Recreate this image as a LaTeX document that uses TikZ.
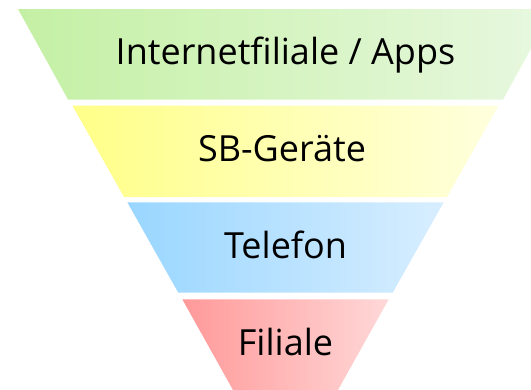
\documentclass[tikz,border=0pt]{standalone}
\usepackage{fontspec}
\setmainfont{Open Sans}
\usepackage{tikz}

\definecolor{webL}{RGB}{196,240,164}
\definecolor{webR}{RGB}{232,248,224}
\definecolor{sbL}{RGB}{255,255,136}
\definecolor{sbR}{RGB}{255,255,222}
\definecolor{telL}{RGB}{153,214,255}
\definecolor{telR}{RGB}{216,238,255}
\definecolor{filL}{RGB}{255,153,153}
\definecolor{filR}{RGB}{255,216,216}

\begin{document}
\begin{tikzpicture}[
  x=1pt, y=-1pt,
  band/.style={draw=none},
  label/.style={font=\fontsize{36}{42}\selectfont, text=black, inner sep=0pt, anchor=base}
]
\useasboundingbox (0,0) rectangle (531,389);
\begin{scope}
  \clip (0,0) rectangle (531,389);
  \shade[band, left color=webL, right color=webR]
    (18,9) -- (553,9) -- (503,99.5) -- (68,99.5) -- cycle;
  \shade[band, left color=sbL, right color=sbR]
    (72.5,105.7) -- (498.5,105.7) -- (447,197) -- (124,197) -- cycle;
  \shade[band, left color=telL, right color=telR]
    (127.3,202.3) -- (443.7,202.3) -- (392.7,292.7) -- (178.3,292.7) -- cycle;
  \shade[band, left color=filL, right color=filR]
    (182.3,299.3) -- (388.7,299.3) -- (338,390) -- (233,390) -- cycle;
\end{scope}
\node[label] (web) at (285.5,64) {Internetfiliale / Apps};
\node[label] (sb) at (282,161.7) {SB-Geräte};
\node[label] (tel) at (285.5,258.3) {Telefon};
\node[label] (fil) at (285.5,355) {Filiale};
\end{tikzpicture}
\end{document}
